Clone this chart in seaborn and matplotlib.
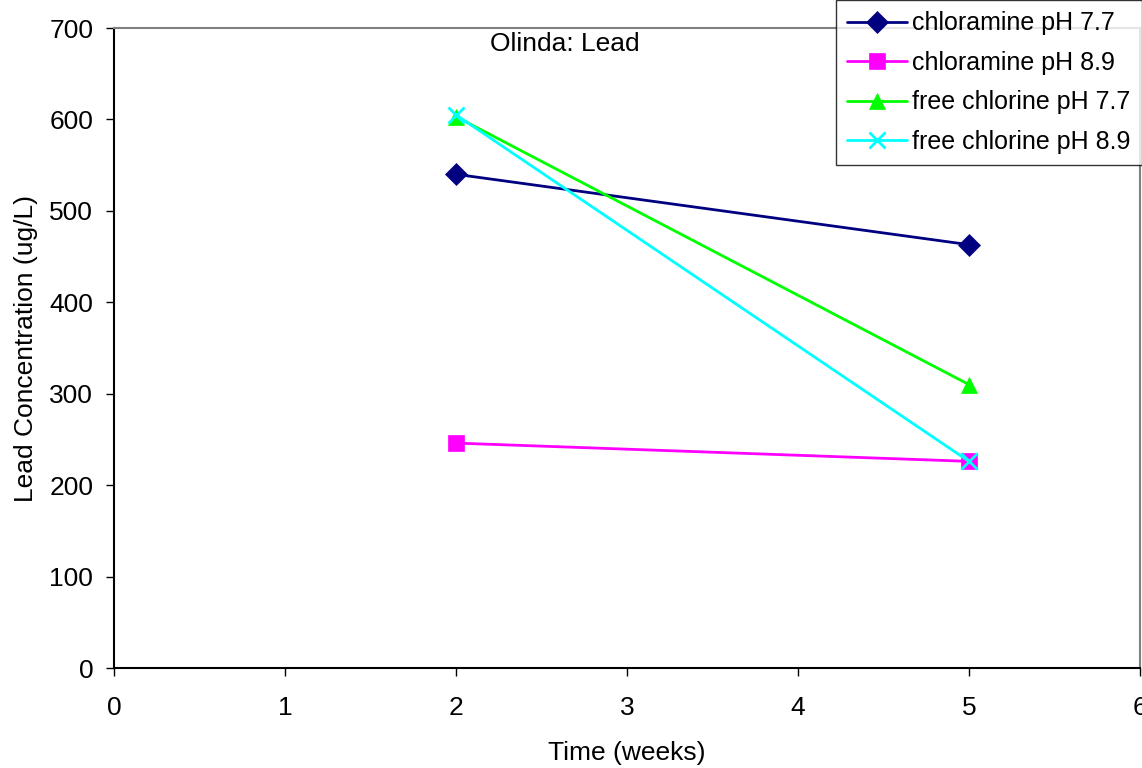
import matplotlib
matplotlib.use("Agg")
import matplotlib.pyplot as plt
import seaborn as sns
import pandas as pd
from matplotlib.lines import Line2D

weeks = [2, 5]
series_names = ["chloramine pH 7.7", "chloramine pH 8.9",
                "free chlorine pH 7.7", "free chlorine pH 8.9"]
chloramine_77 = [540, 463]
chloramine_89 = [246, 226]
free_chlorine_77 = [603, 310]
free_chlorine_89 = [605, 226]
x_ticks = [0, 1, 2, 3, 4, 5, 6]
y_ticks = [0, 100, 200, 300, 400, 500, 600, 700]

values = [chloramine_77, chloramine_89, free_chlorine_77, free_chlorine_89]

sns.set_theme(style="white")
plt.rcParams['font.family'] = ['Liberation Sans', 'DejaVu Sans']
plt.rcParams['text.color'] = 'black'
plt.rcParams['axes.labelcolor'] = 'black'
plt.rcParams['xtick.color'] = 'black'
plt.rcParams['ytick.color'] = 'black'

FS = 19
FS_LEG = 18
colors = ["#000080", "#FF00FF", "#00FF00", "#00FFFF"]
marker_list = ["D", "s", "^", "x"]
msizes = [11, 11, 12, 11]
mews = [0.5, 0.5, 0.5, 2]

fig = plt.figure(figsize=(11.42, 7.68), dpi=100)
ax = fig.add_axes([114/1142, 100/768, 1026/1142, 640/768])

handles = []
for name, vals, c, m, ms, mew in zip(series_names, values, colors, marker_list, msizes, mews):
    d = pd.DataFrame({"Time": weeks, "Lead": vals})
    sns.lineplot(data=d, x="Time", y="Lead", color=c, marker=m, markersize=ms,
                 markeredgewidth=mew, markeredgecolor=c, linewidth=2, ax=ax,
                 legend=False)
    handles.append(Line2D([], [], color=c, marker=m, markersize=ms,
                          markeredgewidth=mew, markeredgecolor=c, linewidth=2))

ax.set_xlim(0, 6)
ax.set_ylim(0, 700)
ax.set_xticks(x_ticks)
ax.set_yticks(y_ticks)
ax.tick_params(axis="both", direction="out", length=6, width=1, labelsize=FS,
               bottom=True, left=True)
ax.tick_params(axis="x", pad=14)
ax.tick_params(axis="y", pad=9)
ax.set_xlabel("Time (weeks)", fontsize=FS, labelpad=15)
ax.set_ylabel("Lead Concentration (ug/L)", fontsize=FS, labelpad=8)
for s in ["left", "bottom"]:
    ax.spines[s].set_color("black")
    ax.spines[s].set_linewidth(1.5)
for s in ["top", "right"]:
    ax.spines[s].set_color("#808080")
    ax.spines[s].set_linewidth(1.5)
ax.grid(False)

fig.text(565/1142, 1 - 44/768, "Olinda: Lead", ha="center", va="center",
         fontsize=FS)

leg = fig.legend(handles, series_names, loc="upper right",
                 bbox_to_anchor=(1.0, 1.0), bbox_transform=fig.transFigure,
                 fontsize=FS_LEG, frameon=True, fancybox=False, borderaxespad=0.0,
                 handlelength=2.4, handletextpad=0.2, labelspacing=0.62,
                 borderpad=0.45)
leg.get_frame().set_edgecolor("black")
leg.get_frame().set_linewidth(1.0)

fig.savefig("out.png", dpi=100)
